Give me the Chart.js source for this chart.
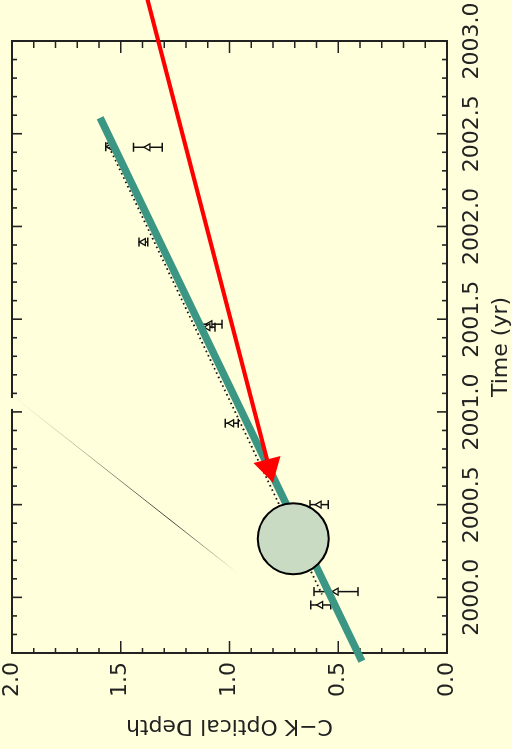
<!DOCTYPE html>
<html>
<head>
<meta charset="utf-8">
<title>C-K Optical Depth vs Time</title>
<script src="https://cdn.jsdelivr.net/npm/chart.js@4"></script>
<style>
  html, body { margin: 0; padding: 0; background: #FFFFDC; width: 512px; height: 749px; overflow: hidden; }
  /* the plot is laid out landscape and turned a quarter turn counter-clockwise */
  #wrap { position: absolute; left: 0; top: 0; width: 749px; height: 512px;
          transform-origin: 0 0; transform: translate(0, 749px) rotate(-90deg); }
  canvas { display: block; }
</style>
</head>
<body>
<div id="wrap"><canvas id="c" width="749" height="512" style="width:749px;height:512px"></canvas></div>
<script>
// axis tick labels
const timeTicks  = [2000.0, 2000.5, 2001.0, 2001.5, 2002.0, 2002.5, 2003.0];
const depthTicks = [0.0, 0.5, 1.0, 1.5, 2.0];

// measured optical depths with their errors
const obsTime  = [2002.427, 2002.430, 2001.916, 2001.473, 2001.457, 2000.939, 2000.500, 2000.031, 1999.959];
const obsDepth = [1.375,    1.549,    1.396,    1.090,    1.099,    0.990,    0.588,    0.510,    0.581];
const obsErr   = [0.066,    0.020,    0.020,    0.055,    0.032,    0.030,    0.042,    0.101,    0.046];

// dotted linear fit
const fitTime  = [2002.452, 2000.016];
const fitDepth = [1.563,    0.575];

// thick teal trend line
const trendTime  = [2002.586, 1999.656];
const trendDepth = [1.595,    0.391];

// red pointer (tail, tip)
const arrowTime  = [2003.242, 2000.618];
const arrowDepth = [1.381,    0.800];

// highlighted epoch
const spotTime  = [2000.316];
const spotDepth = [0.707];

// faint diagonal trace
const traceTime  = [2001.081, 2000.134];
const traceDepth = [1.991,    0.966];

// small break in the upper frame edge
const breakTime  = [2001.016, 2001.075];
const breakDepth = [2.0];

const INK = '#222';
const BG = '#FFFFDC';
const FONT = { family: 'DejaVu Sans', size: 22 };

const framePlugin = {
  id: 'frame',
  beforeDatasetsDraw(chart) {
    const { ctx, chartArea: a, scales: { x, y } } = chart;
    ctx.save();
    ctx.strokeStyle = INK;
    ctx.lineWidth = 2;
    ctx.strokeRect(a.left, a.top, a.right - a.left, a.bottom - a.top);
    ctx.lineWidth = 1.6;
    ctx.beginPath();
    // inward ticks on the time axis, every 0.1 yr
    for (let i = Math.ceil(x.min * 10 - 1e-6); i <= Math.floor(x.max * 10 + 1e-6); i++) {
      const v = i / 10, px = x.getPixelForValue(v);
      const major = i % 5 === 0;
      const len = major ? 10 : 5;
      ctx.moveTo(px, a.bottom); ctx.lineTo(px, a.bottom - len);
      ctx.moveTo(px, a.top);    ctx.lineTo(px, a.top + len);
    }
    // inward ticks on the depth axis, every 0.1
    for (let i = 0; i <= 20; i++) {
      const py = y.getPixelForValue(i / 10);
      const major = i % 5 === 0;
      ctx.moveTo(a.left, py);  ctx.lineTo(a.left + (major ? 12 : 5), py);
      ctx.moveTo(a.right, py); ctx.lineTo(a.right - (major ? 12 : 7), py);
    }
    ctx.stroke();

    // error bars
    ctx.lineWidth = 1.5;
    ctx.strokeStyle = '#111';
    ctx.beginPath();
    obsTime.forEach((t, i) => {
      const px = x.getPixelForValue(t);
      const p1 = y.getPixelForValue(obsDepth[i] - obsErr[i]);
      const p2 = y.getPixelForValue(obsDepth[i] + obsErr[i]);
      ctx.moveTo(px, p1); ctx.lineTo(px, p2);
      ctx.moveTo(px - 4.5, p1); ctx.lineTo(px + 4.5, p1);
      ctx.moveTo(px - 4.5, p2); ctx.lineTo(px + 4.5, p2);
    });
    ctx.stroke();
    ctx.restore();
  },
  afterDraw(chart) {
    const { ctx, scales: { x, y } } = chart;
    const P = (t, d) => [x.getPixelForValue(t), y.getPixelForValue(d)];
    ctx.save();

    // break in the frame edge
    const b1 = x.getPixelForValue(breakTime[0]), b2 = x.getPixelForValue(breakTime[1]);
    const by = y.getPixelForValue(breakDepth[0]);
    ctx.fillStyle = BG;
    ctx.fillRect(Math.min(b1, b2), by - 3, Math.abs(b2 - b1), 6);

    // faint trace
    const [tx1, ty1] = P(traceTime[0], traceDepth[0]);
    const [tx2, ty2] = P(traceTime[1], traceDepth[1]);
    const g = ctx.createLinearGradient(tx1, ty1, tx2, ty2);
    g.addColorStop(0, 'rgba(0,0,0,0)');
    g.addColorStop(0.3, 'rgba(0,0,0,0.25)');
    g.addColorStop(0.7, 'rgba(0,0,0,0.75)');
    g.addColorStop(1, 'rgba(0,0,0,0)');
    ctx.strokeStyle = g;
    ctx.lineWidth = 1;
    ctx.beginPath(); ctx.moveTo(tx1, ty1); ctx.lineTo(tx2, ty2); ctx.stroke();

    // teal trend line
    const [gx1, gy1] = P(trendTime[0], trendDepth[0]);
    const [gx2, gy2] = P(trendTime[1], trendDepth[1]);
    ctx.strokeStyle = '#3B9684';
    ctx.lineWidth = 7.5;
    ctx.lineCap = 'butt';
    ctx.beginPath(); ctx.moveTo(gx1, gy1); ctx.lineTo(gx2, gy2); ctx.stroke();

    // red pointer
    const [ax1, ay1] = P(arrowTime[0], arrowDepth[0]);
    const [ax2, ay2] = P(arrowTime[1], arrowDepth[1]);
    const dx = ax2 - ax1, dy = ay2 - ay1, L = Math.hypot(dx, dy);
    const ux = dx / L, uy = dy / L;
    const headLen = 24, headHalf = 14;
    const bx = ax2 - ux * headLen, byy = ay2 - uy * headLen;
    ctx.strokeStyle = '#FF0000';
    ctx.fillStyle = '#FF0000';
    ctx.lineWidth = 4;
    ctx.beginPath(); ctx.moveTo(ax1, ay1); ctx.lineTo(bx + ux * 2, byy + uy * 2); ctx.stroke();
    ctx.beginPath();
    ctx.moveTo(ax2, ay2);
    ctx.lineTo(bx - uy * headHalf, byy + ux * headHalf);
    ctx.lineTo(bx + uy * headHalf, byy - ux * headHalf);
    ctx.closePath(); ctx.fill();

    // highlighted epoch
    const [cx, cy] = P(spotTime[0], spotDepth[0]);
    ctx.beginPath(); ctx.arc(cx, cy, 35.5, 0, Math.PI * 2);
    ctx.fillStyle = '#CADBC4';
    ctx.fill();
    ctx.strokeStyle = '#000';
    ctx.lineWidth = 2;
    ctx.stroke();
    ctx.restore();
  }
};

new Chart(document.getElementById('c'), {
  type: 'scatter',
  data: {
    datasets: [
      {
        type: 'line',
        data: fitTime.map((t, i) => ({ x: t, y: fitDepth[i] })),
        borderColor: '#111',
        borderWidth: 1.8,
        borderDash: [1.6, 3.2],
        pointRadius: 0,
        fill: false
      },
      {
        data: obsTime.map((t, i) => ({ x: t, y: obsDepth[i] })),
        pointStyle: 'triangle',
        pointRadius: 4,
        borderColor: '#111',
        backgroundColor: BG,
        borderWidth: 1.3
      }
    ]
  },
  options: {
    responsive: false,
    animation: false,
    devicePixelRatio: 1,
    layout: { padding: { left: 0, right: 41, top: 12, bottom: 0 } },
    plugins: { legend: { display: false }, tooltip: { enabled: false } },
    scales: {
      x: {
        type: 'linear',
        position: 'bottom',
        min: 1999.7,
        max: 2003.0,
        grid: { display: false, drawTicks: false },
        border: { display: false },
        afterBuildTicks: s => { s.ticks = timeTicks.map(v => ({ value: v })); },
        afterFit: s => { s.height = 65; s.paddingLeft = 0; s.paddingRight = 0; },
        ticks: { callback: v => v.toFixed(1), color: INK, font: FONT, padding: 12, maxRotation: 0, autoSkip: false },
        title: { display: true, text: 'Time (yr)', color: INK, font: FONT, padding: { top: 0, bottom: -2 } }
      },
      y: {
        type: 'linear',
        position: 'left',
        min: 0,
        max: 2.0,
        grid: { display: false, drawTicks: false },
        border: { display: false },
        afterBuildTicks: s => { s.ticks = depthTicks.map(v => ({ value: v })); },
        afterFit: s => { s.width = 96; s.paddingTop = 0; s.paddingBottom = 0; },
        ticks: { callback: v => v.toFixed(1), color: INK, font: FONT, padding: 9, autoSkip: false },
        title: { display: true, text: 'C\u2212K Optical Depth', color: INK, font: FONT, padding: { top: 10, bottom: 0 } }
      }
    }
  },
  plugins: [framePlugin]
});
</script>
</body>
</html>
